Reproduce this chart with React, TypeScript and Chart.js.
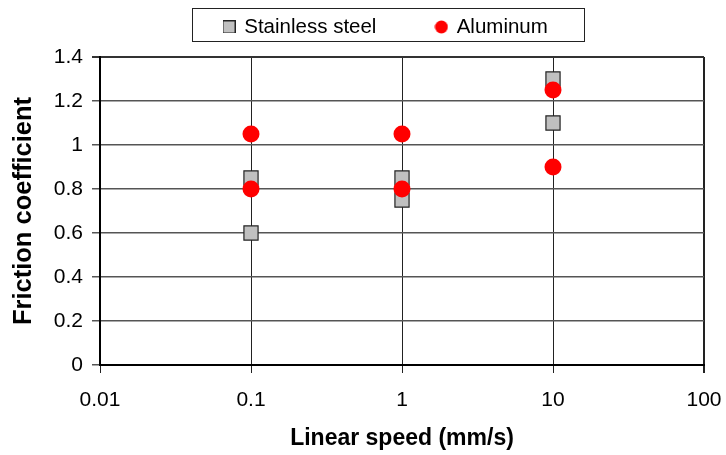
import React, { useEffect, useRef } from "react";
import { Chart, registerables } from "chart.js";

Chart.register(...registerables);

// ---- data ----
const seriesNames = ["Stainless steel", "Aluminum"];
const steelSpeed = [0.1, 0.1, 1, 1, 10, 10];
const steelFriction = [0.85, 0.6, 0.85, 0.75, 1.3, 1.1];
const aluminumSpeed = [0.1, 0.1, 1, 1, 10, 10];
const aluminumFriction = [1.05, 0.8, 1.05, 0.8, 1.25, 0.9];
const xTickValues = [0.01, 0.1, 1, 10, 100];
const xTickLabels = ["0.01", "0.1", "1", "10", "100"];
const yTickValues = [0, 0.2, 0.4, 0.6, 0.8, 1, 1.2, 1.4];
const yTickLabels = ["0", "0.2", "0.4", "0.6", "0.8", "1", "1.2", "1.4"];
const xTitle = "Linear speed (mm/s)";
const yTitle = "Friction coefficient";

// ---- style ----
const FONT = "'Liberation Sans', Arial, sans-serif";
const STEEL_FILL = "#c0c0c0";
const STEEL_EDGE = "#222222";
const ALU_RED = "#ff0000";
const LEGEND_PAD = 60;
const LEGEND_FIRST_X = 224;
const LEGEND_TEXT_Y = 29;

function makeSquareIcon(): HTMLCanvasElement {
  const c = document.createElement("canvas");
  c.width = 13;
  c.height = 13;
  const g = c.getContext("2d")!;
  g.fillStyle = STEEL_FILL;
  g.fillRect(0.5, 0.5, 12, 12);
  g.strokeStyle = STEEL_EDGE;
  g.lineWidth = 1;
  g.strokeRect(0.5, 0.5, 12, 12);
  return c;
}

function makeCircleIcon(): HTMLCanvasElement {
  const c = document.createElement("canvas");
  c.width = 14;
  c.height = 14;
  const g = c.getContext("2d")!;
  g.fillStyle = ALU_RED;
  g.beginPath();
  g.arc(7, 7, 6.5, 0, Math.PI * 2);
  g.fill();
  return c;
}

const legendPlacer = {
  id: "legendPlacer",
  afterLayout(chart: any) {
    const lg = chart.legend;
    if (!lg) return;
    const itemH = lg._itemHeight || 24.6;
    lg.left = LEGEND_FIRST_X - LEGEND_PAD;
    lg.right = chart.width;
    lg.width = lg.right - lg.left;
    lg.top = LEGEND_TEXT_Y - itemH / 2 - LEGEND_PAD;
    lg.bottom = 56;
    lg.height = lg.bottom - lg.top;
  },
  afterDraw(chart: any) {
    const lg = chart.legend;
    if (!lg || !lg.legendHitBoxes || !lg.legendHitBoxes.length) return;
    const hb = lg.legendHitBoxes;
    const first = hb[0];
    const last = hb[hb.length - 1];
    const left = first.left - 32;
    const right = last.left + last.width + 36;
    const cy = first.top + first.height / 2;
    const top = cy - 19;
    const bottom = cy + 14;
    const ctx = chart.ctx;
    ctx.save();
    ctx.strokeStyle = "#222";
    ctx.lineWidth = 1;
    ctx.strokeRect(Math.round(left) + 0.5, Math.round(top) + 0.5, Math.round(right - left), Math.round(bottom - top));
    ctx.restore();
  },
};

export default function App() {
  const ref = useRef<HTMLCanvasElement | null>(null);

  useEffect(() => {
    if (!ref.current) return;
    const squareIcon = makeSquareIcon();
    const circleIcon = makeCircleIcon();
    const icons = [squareIcon, circleIcon];

    const chart = new Chart(ref.current, {
      type: "scatter",
      data: {
        datasets: [
          {
            label: seriesNames[0],
            data: steelSpeed.map((x, i) => ({ x, y: steelFriction[i] })),
            pointStyle: "rect",
            pointRadius: 10,
            pointHoverRadius: 10,
            backgroundColor: STEEL_FILL,
            borderColor: STEEL_EDGE,
            borderWidth: 1.2,
            order: 2,
          },
          {
            label: seriesNames[1],
            data: aluminumSpeed.map((x, i) => ({ x, y: aluminumFriction[i] })),
            pointStyle: "circle",
            pointRadius: 8.5,
            pointHoverRadius: 8.5,
            backgroundColor: ALU_RED,
            borderColor: ALU_RED,
            borderWidth: 0,
            order: 1,
          },
        ],
      },
      options: {
        animation: false,
        responsive: false,
        devicePixelRatio: 1,
        layout: { padding: { top: 12, right: 22, bottom: 0, left: 0 } },
        plugins: {
          tooltip: { enabled: false },
          legend: {
            display: true,
            position: "top",
            align: "start",
            maxHeight: 45,
            labels: {
              usePointStyle: true,
              pointStyleWidth: 10,
              boxWidth: 10,
              boxHeight: 10,
              padding: LEGEND_PAD,
              color: "#000",
              font: { family: FONT, size: 20.5 },
              sort: (a: any, b: any) => a.datasetIndex - b.datasetIndex,
              generateLabels: (c: any) => {
                const base = Chart.defaults.plugins.legend.labels.generateLabels(c);
                return base.map((it: any) => ({ ...it, pointStyle: icons[it.datasetIndex] }));
              },
            },
          },
        },
        scales: {
          x: {
            type: "logarithmic",
            min: 0.01,
            max: 100,
            afterBuildTicks: (s: any) => {
              s.ticks = xTickValues.map((v) => ({ value: v }));
            },
            afterFit: (s: any) => {
              s.height = 90;
              s.paddingLeft = 0;
              s.paddingRight = 0;
            },
            ticks: {
              autoSkip: false,
              maxRotation: 0,
              padding: 15,
              color: "#000",
              font: { family: FONT, size: 21 },
              callback: (_v: any, i: number) => xTickLabels[i],
            },
            grid: {
              color: "#222",
              lineWidth: (ctx: any) => (ctx.index === xTickValues.length - 1 ? 2 : 1),
              tickLength: 8,
              drawTicks: true,
            },
            border: { display: true, color: "#000", width: 2 },
            title: {
              display: true,
              text: xTitle,
              color: "#000",
              font: { family: FONT, size: 23, weight: "bold" },
              padding: { top: 0, bottom: 3 },
            },
          },
          y: {
            type: "linear",
            min: 0,
            max: 1.4,
            afterBuildTicks: (s: any) => {
              s.ticks = yTickValues.map((v) => ({ value: v }));
            },
            afterFit: (s: any) => {
              s.width = 100;
            },
            ticks: {
              padding: 9,
              color: "#000",
              font: { family: FONT, size: 21 },
              callback: (_v: any, i: number) => yTickLabels[i],
            },
            grid: {
              color: (ctx: any) => (ctx.index === yTickValues.length - 1 ? "#333" : "#555"),
              lineWidth: (ctx: any) => (ctx.index === yTickValues.length - 1 ? 2 : 1.5),
              tickLength: 8,
              drawTicks: true,
            },
            border: { display: true, color: "#000", width: 2 },
            title: {
              display: true,
              text: yTitle,
              color: "#000",
              font: { family: FONT, size: 25.5, weight: "bold" },
              padding: { top: 9, bottom: 0 },
            },
          },
        },
      },
      plugins: [legendPlacer],
    } as any);

    return () => chart.destroy();
  }, []);

  return (
    <div style={{ position: "absolute", left: 0, top: 0, width: 726, height: 455, background: "#fff" }}>
      <canvas ref={ref} width={726} height={455} style={{ width: 726, height: 455, display: "block" }} />
    </div>
  );
}
